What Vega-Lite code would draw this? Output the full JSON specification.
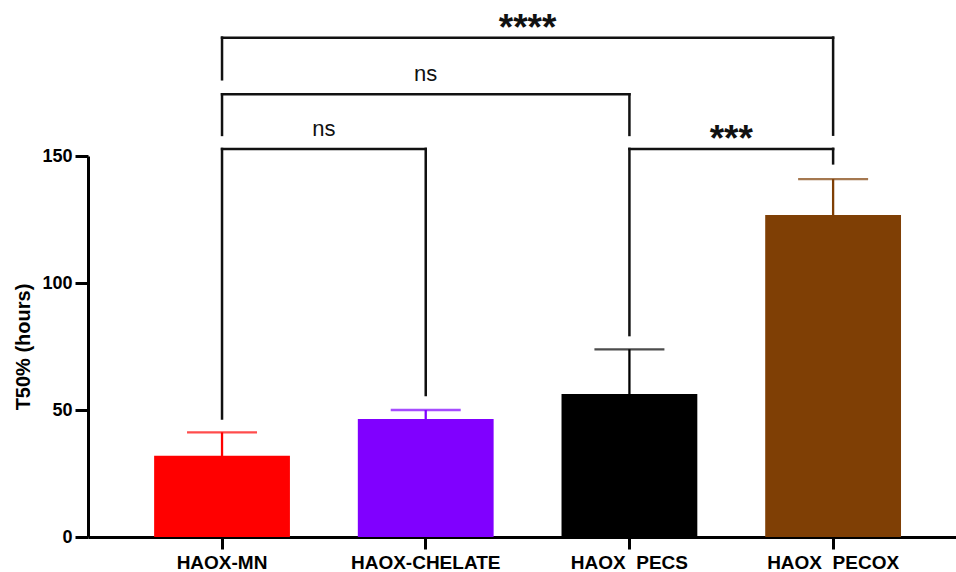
{
  "$schema": "https://vega.github.io/schema/vega-lite/v6.json",
  "autosize": {"type": "none"},
  "padding": {"left": 88, "top": 156, "right": 0, "bottom": 35},
  "width": 868,
  "height": 381,
  "background": "white",
  "config": {
    "view": {"stroke": null},
    "axis": {
      "grid": false,
      "domainColor": "#000000",
      "domainWidth": 3,
      "tickColor": "#000000",
      "tickWidth": 3,
      "labelColor": "#000000",
      "labelFont": "Liberation Sans",
      "labelFontWeight": "bold",
      "titleColor": "#000000",
      "titleFont": "Liberation Sans",
      "titleFontWeight": "bold"
    }
  },
  "datasets": {
    "groups": [
      {"group": "HAOX-MN", "mean": 32.0, "sd": 9.2},
      {"group": "HAOX-CHELATE", "mean": 46.5, "sd": 3.5},
      {"group": "HAOX\u00a0\u00a0PECS", "mean": 56.3, "sd": 17.6},
      {"group": "HAOX\u00a0\u00a0PECOX", "mean": 126.8, "sd": 14.1}
    ],
    "pairs": [
      {"from": "HAOX-MN", "to": "HAOX-CHELATE", "h": 152.8, "lowFrom": 46.7, "lowTo": 55.9, "label": "ns"},
      {"from": "HAOX-MN", "to": "HAOX\u00a0\u00a0PECS", "h": 174.3, "lowFrom": 158.3, "lowTo": 158.3, "label": "ns"},
      {"from": "HAOX\u00a0\u00a0PECS", "to": "HAOX\u00a0\u00a0PECOX", "h": 152.8, "lowFrom": 79.5, "lowTo": 147.1, "label": "***"},
      {"from": "HAOX-MN", "to": "HAOX\u00a0\u00a0PECOX", "h": 196.6, "lowFrom": 180.2, "lowTo": 158.4, "label": "****"}
    ]
  },
  "layer": [
    {
      "data": {"name": "groups"},
      "mark": {"type": "errorbar", "thickness": 2.3, "ticks": {"size": 70}},
      "encoding": {
        "x": {
          "field": "group", "type": "nominal", "title": null,
          "scale": {"domain": ["HAOX-MN", "HAOX-CHELATE", "HAOX\u00a0\u00a0PECS", "HAOX\u00a0\u00a0PECOX"], "paddingInner": 0.3333, "paddingOuter": 0.2973, "align": 0.546},
          "axis": {"labelAngle": 0, "labelFontSize": 19, "tickSize": 12, "labelPadding": 4}
        },
        "y": {
          "field": "mean", "type": "quantitative", "title": "T50% (hours)",
          "scale": {"domain": [0, 150], "nice": false},
          "axis": {"values": [0, 50, 100, 150], "labelFontSize": 18, "tickSize": 13, "labelPadding": 3, "titleFontSize": 20, "titlePadding": 8}
        },
        "yError": {"field": "sd"},
        "color": {
          "field": "group", "type": "nominal", "legend": null,
          "scale": {"domain": ["HAOX-MN", "HAOX-CHELATE", "HAOX\u00a0\u00a0PECS", "HAOX\u00a0\u00a0PECOX"], "range": ["#ff0000", "#8000ff", "#000000", "#7f3f05"]}
        }
      }
    },
    {
      "data": {"name": "groups"},
      "mark": {"type": "bar"},
      "encoding": {
        "x": {"field": "group", "type": "nominal", "title": null},
        "y": {"field": "mean", "type": "quantitative", "title": "T50% (hours)"},
        "color": {"field": "group", "type": "nominal", "legend": null}
      }
    },
    {
      "data": {"name": "pairs"},
      "mark": {"type": "rule", "color": "#111111", "strokeWidth": 2.5, "strokeCap": "square"},
      "encoding": {
        "x": {"field": "from", "type": "nominal", "title": null},
        "x2": {"field": "to"},
        "y": {"field": "h", "type": "quantitative", "title": "T50% (hours)"}
      }
    },
    {
      "data": {"name": "pairs"},
      "mark": {"type": "rule", "color": "#111111", "strokeWidth": 2.5, "strokeCap": "square"},
      "encoding": {
        "x": {"field": "from", "type": "nominal", "title": null},
        "y": {"field": "lowFrom", "type": "quantitative", "title": "T50% (hours)"},
        "y2": {"field": "h"}
      }
    },
    {
      "data": {"name": "pairs"},
      "mark": {"type": "rule", "color": "#111111", "strokeWidth": 2.5, "strokeCap": "square"},
      "encoding": {
        "x": {"field": "to", "type": "nominal", "title": null},
        "y": {"field": "lowTo", "type": "quantitative", "title": "T50% (hours)"},
        "y2": {"field": "h"}
      }
    },
    {
      "data": {"name": "pairs"},
      "transform": [{"filter": "datum.label == 'ns' && datum.to == 'HAOX-CHELATE'"}],
      "mark": {"type": "text", "font": "Liberation Sans", "fontSize": 22, "baseline": "alphabetic", "align": "center", "dy": -13, "color": "#111111"},
      "encoding": {
        "x": {"field": "from", "type": "nominal", "title": null, "bandPosition": 1.25},
        "y": {"field": "h", "type": "quantitative", "title": "T50% (hours)"},
        "text": {"field": "label"}
      }
    },
    {
      "data": {"name": "pairs"},
      "transform": [{"filter": "datum.label == 'ns' && datum.to != 'HAOX-CHELATE'"}],
      "mark": {"type": "text", "font": "Liberation Sans", "fontSize": 22, "baseline": "alphabetic", "align": "center", "dy": -13, "color": "#111111"},
      "encoding": {
        "x": {"field": "from", "type": "nominal", "title": null, "bandPosition": 2.0},
        "y": {"field": "h", "type": "quantitative", "title": "T50% (hours)"},
        "text": {"field": "label"}
      }
    },
    {
      "data": {"name": "pairs"},
      "transform": [{"filter": "datum.label == '***'"}],
      "mark": {"type": "text", "font": "Liberation Sans", "fontWeight": "bold", "fontSize": 37, "baseline": "alphabetic", "align": "center", "dy": 2, "color": "#111111"},
      "encoding": {
        "x": {"field": "from", "type": "nominal", "title": null, "bandPosition": 1.25},
        "y": {"field": "h", "type": "quantitative", "title": "T50% (hours)"},
        "text": {"field": "label"}
      }
    },
    {
      "data": {"name": "pairs"},
      "transform": [{"filter": "datum.label == '****'"}],
      "mark": {"type": "text", "font": "Liberation Sans", "fontWeight": "bold", "fontSize": 37, "baseline": "alphabetic", "align": "center", "dy": 2, "color": "#111111"},
      "encoding": {
        "x": {"field": "from", "type": "nominal", "title": null, "bandPosition": 2.75},
        "y": {"field": "h", "type": "quantitative", "title": "T50% (hours)"},
        "text": {"field": "label"}
      }
    }
  ]
}
